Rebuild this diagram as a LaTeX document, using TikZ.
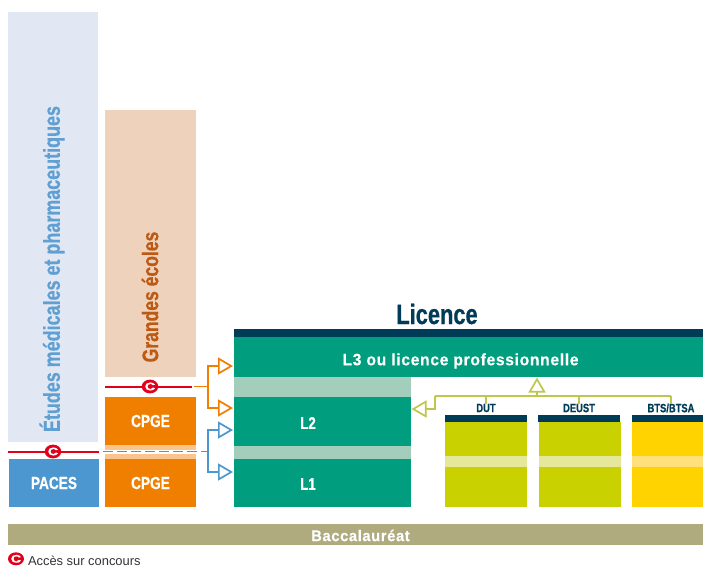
\documentclass[tikz,border=0pt]{standalone}
\usepackage{fontspec}
\setmainfont{Liberation Sans}
\newfontfamily\condf[FakeStretch=0.78,BoldFeatures={FakeBold=0.6}]{Liberation Sans}
\newfontfamily\midf[FakeStretch=0.95,LetterSpace=4,BoldFeatures={FakeBold=0.3}]{Liberation Sans}
\newfontfamily\badgef[FakeStretch=1.3,BoldFeatures={FakeBold=1}]{Liberation Sans}
\usetikzlibrary{arrows.meta,shapes.geometric}
\definecolor{navy}{HTML}{003B57}
\definecolor{teal}{HTML}{009E7E}
\definecolor{paleteal}{HTML}{A3CEBB}
\definecolor{palemed}{HTML}{E1E8F4}
\definecolor{peach}{HTML}{EED2BC}
\definecolor{orng}{HTML}{F07F00}
\definecolor{paleorng}{HTML}{F9C48D}
\definecolor{blu}{HTML}{4C97D0}
\definecolor{txtblu}{HTML}{5F9FD2}
\definecolor{txtbrn}{HTML}{BC5A14}
\definecolor{lime}{HTML}{CAD100}
\definecolor{palelime}{HTML}{E5E89B}
\definecolor{yel}{HTML}{FFD300}
\definecolor{paleyel}{HTML}{FFE07A}
\definecolor{bac}{HTML}{B0AB7F}
\definecolor{redc}{HTML}{E2001A}
\definecolor{olv}{HTML}{BCC84A}
\tikzset{
  x=1pt,y=-1pt,
  box/.style={anchor=north west,inner sep=0pt,outer sep=0pt,text=white,font=\condf\bfseries\fontsize{17.5}{18}\selectfont},
  lbl/.style={inner sep=0pt,outer sep=0pt},
  cbadge/.style={ellipse,fill=redc,inner sep=0pt,minimum width=16.5pt,minimum height=13.8pt,text=white,font=\badgef\bfseries\fontsize{11}{11}\selectfont},
  redline/.style={draw=redc,line width=2pt},
  conn/.style={line width=1.7pt},
  opentip/.style={-{Triangle[open,fill=white,length=15pt,width=17pt,line width=1.7pt]}},
  head/.style={lbl,text=navy,font=\condf\bfseries\fontsize{12}{13}\selectfont},
}
\newcommand{\bx}[7]{\node[box,fill=#6,minimum width=#4pt-#2pt,minimum height=#5pt-#3pt] (#1) at (#2,#3) {#7};}
\begin{document}
\begin{tikzpicture}
\useasboundingbox (0,0) rectangle (703,566);
% left columns
\bx{med}{8}{12}{98}{442}{palemed}{}
\bx{ecoles}{105}{110}{196}{377}{peach}{}
\node[lbl,rotate=90,text=txtblu,font=\condf\bfseries\fontsize{23}{23}\selectfont] (medtxt) at (52,269) {Études médicales et pharmaceutiques};
\node[lbl,rotate=90,text=txtbrn,font=\condf\bfseries\fontsize{22.5}{23}\selectfont] (ectxt) at (150,297) {Grandes écoles};
\bx{paces}{9}{459}{99}{507}{blu}{PACES}
\bx{cpgemid}{105}{445}{196}{459}{paleorng}{}
\bx{cpgeA}{105}{397}{196}{445}{orng}{CPGE}
\bx{cpgeB}{105}{459}{196}{507}{orng}{CPGE}
% licence block
\node[lbl,text=navy,font=\condf\bfseries\fontsize{28}{28}\selectfont] (lic) at (437,314) {Licence};
\bx{navybar}{234}{329}{703}{337}{navy}{}
\bx{lthree}{234}{337}{703}{377}{teal}{}
\node[lbl,text=white,font=\midf\bfseries\fontsize{16.5}{17}\selectfont] (lthreetxt) at (460.5,361) {L3 ou licence professionnelle};
\bx{gapA}{234}{377}{411}{397}{paleteal}{}
\bx{ltwo}{234}{397}{411}{446}{teal}{}
\bx{gapB}{234}{446}{411}{459}{paleteal}{}
\bx{lone}{234}{459}{411}{507}{teal}{}
\node[lbl,text=white,font=\condf\bfseries\fontsize{17}{17}\selectfont] (ltwotxt) at (308,423) {L2};
\node[lbl,text=white,font=\condf\bfseries\fontsize{17}{17}\selectfont] (lonetxt) at (308,484) {L1};
% short courses
\bx{dutbar}{445}{415}{527}{422}{navy}{}
\bx{dutA}{445}{422}{527}{456}{lime}{}
\bx{dutM}{445}{456}{527}{467}{palelime}{}
\bx{dutB}{445}{467}{527}{507}{lime}{}
\bx{deubar}{538}{415}{620}{422}{navy}{}
\bx{deuA}{539}{422}{621}{456}{lime}{}
\bx{deuM}{539}{456}{621}{467}{palelime}{}
\bx{deuB}{539}{467}{621}{507}{lime}{}
\bx{btsbar}{632}{415}{703}{422}{navy}{}
\bx{btsA}{632}{422}{703}{456}{yel}{}
\bx{btsM}{632}{456}{703}{467}{paleyel}{}
\bx{btsB}{632}{467}{703}{507}{yel}{}
\node[head] (dut) at (486,408) {DUT};
\node[head] (deust) at (579,408) {DEUST};
\node[head] (bts) at (671,408) {BTS/BTSA};
% baccalaureat
\bx{bacbar}{8}{524}{703}{545}{bac}{}
\node[lbl,text=white,font=\midf\bfseries\fontsize{15.5}{16}\selectfont] (bactxt) at (360.5,535.5) {Baccalauréat};
% concours lines
\coordinate (redAw) at (105,386.5);
\coordinate (redAe) at (192,386.5);
\coordinate (redBw) at (8,451.5);
\coordinate (redBe) at (99,451.5);
\draw[redline] (redAw) -- (redAe);
\draw[redline] (redBw) -- (redBe);
\node[cbadge] (cA) at (150,386.5) {C};
\node[cbadge] (cB) at (53,451.5) {C};
% orange connector
\coordinate (oS) at (194,386.5);
\coordinate (jn) at (208,386.5);
\coordinate (oA) at (233,366);
\coordinate (oB) at (233,408);
\draw[conn,orng] (oS) -- (jn);
\draw[conn,orng,opentip] (jn) |- (oA);
\draw[conn,orng,opentip] (jn) |- (oB);
% blue connector
\coordinate (bS) at (103,451.5);
\coordinate (bM) at (196.5,451.5);
\coordinate (bN) at (201,451.5);
\coordinate (jb) at (208,451.5);
\coordinate (bA) at (233,430);
\coordinate (bB) at (233,472);
\draw[white,line width=3.5pt] (cpgemid.west) -- (cpgemid.east);
\draw[conn,blu,dash pattern=on 9.5pt off 4.5pt] (bS) -- (bM);
\draw[conn,blu] (bN) -- (jb);
\draw[conn,blu,opentip] (jb) |- (bA);
\draw[conn,blu,opentip] (jb) |- (bB);
% olive connector
\coordinate (olL) at (435,396);
\coordinate (olM) at (537,396);
\coordinate (olD) at (486,396);
\coordinate (olE) at (579,396);
\coordinate (olR) at (671,396);
\coordinate (olT) at (537,377.5);
\coordinate (olTip) at (411.5,409);
\draw[conn,olv] (olL) -- (olR);
\draw[conn,olv] (olD) -- (dut.north);
\draw[conn,olv] (olE) -- (deust.north);
\draw[conn,olv] (olR) -- (bts.north);
\draw[conn,olv,opentip] (olM) -- (olT);
\draw[conn,olv,opentip] (olL) |- (olTip);
% legend
\node[cbadge,minimum width=16pt,minimum height=13pt] (legc) at (16,558.8) {C};
\node[lbl,anchor=base west,text=black!80,font=\fontsize{12.9}{13}\selectfont] (legt) at (28,565.3) {Accès sur concours};
\end{tikzpicture}
\end{document}
